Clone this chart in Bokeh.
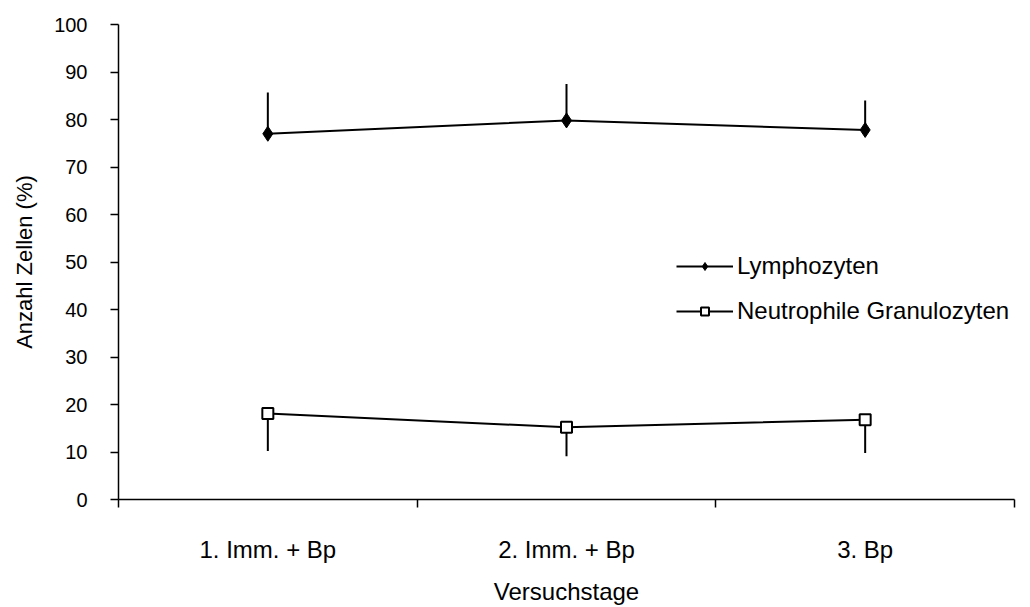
from bokeh.plotting import figure
from bokeh.models import FixedTicker, Range1d, Legend, LegendItem
from bokeh.embed import file_html
from bokeh.resources import INLINE

categories = ["1. Imm. + Bp", "2. Imm. + Bp", "3. Bp"]
lymph = [77.0, 79.8, 77.8]
lymph_err = [8.7, 7.7, 6.2]
neut = [18.1, 15.2, 16.8]
neut_err = [7.9, 6.1, 7.0]
y_ticks = [0, 10, 20, 30, 40, 50, 60, 70, 80, 90, 100]

FONT = "Liberation Sans"
FS = "24px"

xs = [i + 0.5 for i in range(len(categories))]
bounds = [float(i) for i in range(len(categories) + 1)]

p = figure(width=1030, height=607, output_backend="svg", toolbar_location=None,
           x_range=Range1d(0, len(categories)), y_range=Range1d(0, 100),
           min_border_left=118, min_border_right=16, min_border_top=24, min_border_bottom=97)
p.outline_line_color = None
p.xgrid.grid_line_color = None
p.ygrid.grid_line_color = None
p.background_fill_color = "white"
p.border_fill_color = "white"

# error bars (one-sided)
p.segment(x0=xs, y0=lymph, x1=xs, y1=[v + e for v, e in zip(lymph, lymph_err)],
          line_color="black", line_width=2)
p.segment(x0=xs, y0=neut, x1=xs, y1=[v - e for v, e in zip(neut, neut_err)],
          line_color="black", line_width=2)

l1 = p.line(xs, lymph, line_color="black", line_width=2)
m1 = p.scatter(xs, lymph, marker="diamond", size=15, fill_color="black", line_color="black")
l2 = p.line(xs, neut, line_color="black", line_width=2)
m2 = p.scatter(xs, neut, marker="square", size=11, fill_color="white", line_color="black", line_width=2)

# x axis
xa = p.xaxis[0]
xa.ticker = FixedTicker(ticks=xs, minor_ticks=bounds)
xa.major_label_overrides = {x: c for x, c in zip(xs, categories)}
xa.major_tick_out = 0
xa.major_tick_in = 0
xa.minor_tick_out = 8
xa.minor_tick_in = 0
xa.minor_tick_line_color = "black"
xa.axis_line_color = "black"
xa.axis_line_width = 1.5
xa.minor_tick_line_width = 1.5
xa.major_label_standoff = 28
xa.major_label_text_font = FONT
xa.major_label_text_font_size = FS
xa.major_label_text_color = "black"
xa.axis_label = "Versuchstage"
xa.axis_label_text_font = FONT
xa.axis_label_text_font_size = FS
xa.axis_label_text_font_style = "normal"
xa.axis_label_text_color = "black"
xa.axis_label_standoff = 12

# y axis
ya = p.yaxis[0]
ya.ticker = FixedTicker(ticks=y_ticks, minor_ticks=[])
ya.major_tick_out = 8
ya.major_tick_in = 0
ya.major_tick_line_width = 1.5
ya.axis_line_width = 1.5
ya.axis_line_color = "black"
ya.major_label_standoff = 23
ya.major_label_text_font = FONT
ya.major_label_text_font_size = "20px"
ya.major_label_text_color = "black"
ya.axis_label = "Anzahl Zellen (%)"
ya.axis_label_text_font = FONT
ya.axis_label_text_font_size = "22px"
ya.axis_label_text_font_style = "normal"
ya.axis_label_text_color = "black"
ya.axis_label_standoff = 14

legend = Legend(items=[LegendItem(label="Lymphozyten", renderers=[l1, m1]),
                       LegendItem(label="Neutrophile Granulozyten", renderers=[l2, m2])],
                location=(558, 174), orientation="vertical",
                glyph_width=57, glyph_height=20, label_standoff=4, label_height=20,
                spacing=17, padding=0, margin=0,
                border_line_color=None, background_fill_alpha=0,
                label_text_font=FONT, label_text_font_size=FS, label_text_color="black")
p.add_layout(legend)

open("out.html", "w").write(file_html(p, INLINE))
